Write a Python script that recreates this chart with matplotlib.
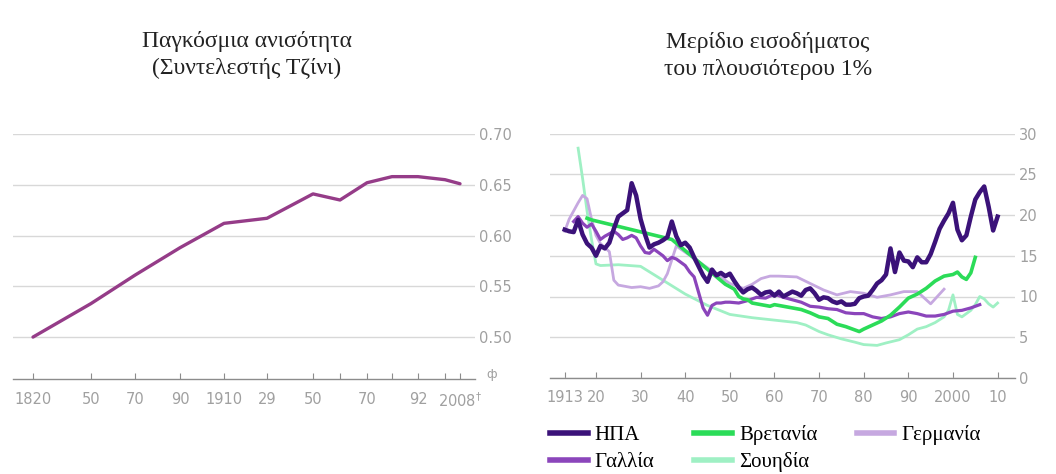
import numpy as np
import matplotlib
matplotlib.use("Agg")
import matplotlib.pyplot as plt
from matplotlib.ticker import FixedLocator

# ---- data: world inequality (Gini) ----
gini_years = [1820, 1850, 1870, 1890, 1910, 1929, 1950, 1960, 1970, 1980, 1992, 2000, 2008]
gini_values = [0.500, 0.533, 0.561, 0.588, 0.612, 0.617, 0.641, 0.635, 0.652, 0.658, 0.658, 0.655, 0.651]
gini_ticklabels = ['1820', '50', '70', '90', '1910', '29', '50', '', '70', '', '92', '', '2008$^{\\dagger}$']

# ---- data: income share of the top 1% ----
usa_years = list(range(1913, 2011))
usa_values = [18.2, 18.0, 17.9, 19.4, 17.6, 16.5, 16.0, 15.0, 16.2, 15.9,
              16.6, 18.3, 19.8, 20.2, 20.6, 23.9, 22.4, 19.5, 17.6, 16.0,
              16.4, 16.6, 16.9, 17.3, 19.2, 17.4, 16.3, 16.6, 16.0, 14.8,
              13.7, 12.6, 11.8, 13.3, 12.6, 12.9, 12.5, 12.8, 11.9, 11.1,
              10.5, 10.9, 11.1, 10.7, 10.2, 10.5, 10.6, 10.1, 10.6, 10.0,
              10.3, 10.6, 10.4, 10.1, 10.8, 11.0, 10.4, 9.6, 9.9, 9.8,
              9.4, 9.2, 9.4, 9.0, 9.0, 9.1, 9.8, 10.0, 10.1, 10.8,
              11.6, 12.0, 12.7, 15.9, 13.0, 15.4, 14.4, 14.3, 13.6, 14.8,
              14.2, 14.2, 15.2, 16.7, 18.3, 19.3, 20.2, 21.5, 18.2, 16.9,
              17.5, 19.8, 21.9, 22.8, 23.5, 21.0, 18.1, 19.8]

uk_years = [1918, 1919, 1937, 1949, 1951, 1952, 1953, 1954, 1955, 1957, 1959, 1960,
            1962, 1964, 1966, 1968, 1970, 1972, 1974, 1976, 1978, 1979, 1980, 1982,
            1984, 1986, 1988, 1990, 1992, 1994, 1996, 1998, 2000, 2001, 2002, 2003,
            2004, 2005]
uk_values = [19.6, 19.4, 17.0, 11.5, 10.9, 10.0, 9.7, 9.6, 9.2, 9.0, 8.8, 9.0,
             8.8, 8.6, 8.4, 8.0, 7.5, 7.3, 6.6, 6.3, 5.9, 5.7, 6.0, 6.5,
             7.0, 7.7, 8.7, 9.8, 10.3, 11.0, 11.9, 12.5, 12.7, 13.0, 12.4, 12.1,
             12.9, 14.8]

germany_years = [1913, 1914, 1915, 1916, 1917, 1918, 1919, 1920, 1921, 1922, 1923, 1924,
                 1925, 1926, 1928, 1930, 1932, 1934, 1935, 1936, 1937, 1938, 1950, 1953,
                 1955, 1957, 1959, 1961, 1965, 1968, 1971, 1974, 1977, 1980, 1983, 1986,
                 1989, 1992, 1995, 1998]
germany_values = [18.0, 19.5, 20.5, 21.5, 22.4, 22.0, 19.5, 17.5, 16.5, 16.0, 15.5, 12.0,
                  11.4, 11.3, 11.1, 11.2, 11.0, 11.3, 11.8, 12.8, 14.5, 16.2, 11.6, 11.0,
                  11.5, 12.2, 12.5, 12.5, 12.4, 11.6, 10.8, 10.2, 10.6, 10.4, 9.9, 10.2,
                  10.6, 10.6, 9.1, 10.9]

france_years = [1915, 1916, 1917, 1918, 1919, 1920, 1921, 1922, 1923, 1924, 1925, 1926,
                1927, 1928, 1929, 1930, 1931, 1932, 1933, 1934, 1935, 1936, 1937, 1938,
                1939, 1940, 1941, 1942, 1943, 1944, 1945, 1946, 1947, 1948, 1949, 1950,
                1952, 1954, 1956, 1958, 1960, 1962, 1964, 1966, 1968, 1970, 1972, 1974,
                1976, 1978, 1980, 1982, 1984, 1986, 1988, 1990, 1992, 1994, 1996, 1998,
                2000, 2002, 2004, 2006]
france_values = [19.2, 19.8, 19.0, 18.5, 18.9, 18.0, 17.0, 17.4, 17.7, 18.0, 17.6, 17.0,
                 17.2, 17.5, 17.2, 16.2, 15.4, 15.3, 15.8, 15.4, 15.0, 14.4, 14.8, 14.6,
                 14.2, 13.8, 13.0, 12.4, 10.5, 8.6, 7.7, 8.9, 9.2, 9.2, 9.3, 9.3,
                 9.2, 9.5, 9.9, 9.8, 10.3, 9.9, 9.6, 9.3, 8.8, 8.7, 8.5, 8.4,
                 8.0, 7.9, 7.9, 7.5, 7.3, 7.5, 7.9, 8.1, 7.9, 7.6, 7.6, 7.8,
                 8.2, 8.3, 8.6, 9.0]

sweden_years = [1916, 1917, 1918, 1919, 1920, 1921, 1925, 1930, 1935, 1940, 1945, 1950,
                1955, 1960, 1965, 1967, 1970, 1972, 1975, 1978, 1980, 1983, 1985, 1988,
                1990, 1992, 1994, 1996, 1998, 1999, 2000, 2001, 2002, 2003, 2004, 2005,
                2006, 2007, 2008, 2009, 2010]
sweden_values = [28.2, 24.5, 20.5, 17.0, 14.0, 13.8, 13.9, 13.7, 12.0, 10.3, 8.9, 7.8,
                 7.4, 7.1, 6.8, 6.5, 5.7, 5.3, 4.8, 4.4, 4.1, 4.0, 4.3, 4.7,
                 5.3, 6.0, 6.3, 6.8, 7.5, 8.3, 10.2, 7.8, 7.5, 7.9, 8.3, 9.0,
                 10.0, 9.7, 9.1, 8.7, 9.2]

top_ticks = [1913, 1920, 1930, 1940, 1950, 1960, 1970, 1980, 1990, 2000, 2010]
top_ticklabels = ['1913', '20', '30', '40', '50', '60', '70', '80', '90', '2000', '10']

# ---- styling ----
W, H = 1056, 474
grey_txt = '#a0a0a0'
grid_col = '#d8d8d8'
tick_font = ['Liberation Sans Narrow', 'DejaVu Sans']
serif = ['Liberation Serif', 'DejaVu Serif']

fig = plt.figure(figsize=(W / 100, H / 100), dpi=100)

# left panel: uneven x axis as in the original (pixel anchors for the tick years)
anchor_years = [1810] + gini_years + [2016]
anchor_px = [13, 33, 91, 135, 180, 224, 267, 313, 340, 367, 392, 418, 445, 460, 475]


def fwd(x):
    return np.interp(x, anchor_years, anchor_px)


def inv(p):
    return np.interp(p, anchor_px, anchor_years)


ax1 = fig.add_axes([13 / W, 1 - 379 / H, (475 - 13) / W, (379 - 134) / H])
ax1.set_xscale('function', functions=(fwd, inv))
ax1.plot(gini_years, gini_values, color='#953c88', lw=2.4, solid_capstyle='round', zorder=3)
ax1.set_xlim(1810, 2016)
ax1.set_ylim(0.4587, 0.70)
ax1.xaxis.set_major_locator(FixedLocator(gini_years))
ax1.set_xticklabels(gini_ticklabels)
ax1.set_yticks([0.50, 0.55, 0.60, 0.65, 0.70])
ax1.set_yticklabels(['0.50', '0.55', '0.60', '0.65', '0.70'])
ax1.text(1.025, 0.02, 'ф', transform=ax1.transAxes, color=grey_txt, fontsize=9,
         ha='left', va='center')

ax2 = fig.add_axes([550 / W, 1 - 378 / H, (1015 - 550) / W, (378 - 133.5) / H])
ax2.plot(sweden_years, sweden_values, color='#9ff0c4', lw=2.0, zorder=2, label='Σουηδία')
ax2.plot(germany_years, germany_values, color='#c6a8e0', lw=2.0, zorder=3, label='Γερμανία')
ax2.plot(france_years, france_values, color='#8b45bb', lw=2.3, zorder=4, label='Γαλλία')
ax2.plot(uk_years, uk_values, color='#2bdc58', lw=2.6, zorder=5, label='Βρετανία')
ax2.plot(usa_years, usa_values, color='#3b1279', lw=3.2, zorder=6, label='ΗΠΑ')
ax2.set_xlim(1909.7, 2013.9)
ax2.set_ylim(0, 30)
ax2.set_xticks(top_ticks)
ax2.set_xticklabels(top_ticklabels)
ax2.set_yticks(range(0, 31, 5))

for ax in (ax1, ax2):
    for s in ('top', 'left', 'right'):
        ax.spines[s].set_visible(False)
    ax.spines['bottom'].set_color('#8c8c8c')
    ax.spines['bottom'].set_linewidth(1.0)
    ax.yaxis.tick_right()
    ax.grid(axis='y', color=grid_col, lw=1.0)
    ax.set_axisbelow(True)
    ax.tick_params(axis='y', length=0, pad=3, labelcolor=grey_txt, labelsize=10.5)
    ax.tick_params(axis='x', direction='in', length=4, color='#8c8c8c', pad=9,
                   labelcolor=grey_txt, labelsize=10.5)
    for lab in ax.get_xticklabels() + ax.get_yticklabels():
        lab.set_family(tick_font)

fig.text(247 / W, 1 - 55 / H, 'Παγκόσμια ανισότητα\n(Συντελεστής Τζίνι)', ha='center',
         va='center', family=serif, fontsize=17, color='#222222', linespacing=1.4)
fig.text(768 / W, 1 - 56 / H, 'Μερίδιο εισοδήματος\nτου πλουσιότερου 1%', ha='center',
         va='center', family=serif, fontsize=17, color='#222222', linespacing=1.4)

handles, labels = ax2.get_legend_handles_labels()
order = [4, 2, 3, 0, 1]  # ΗΠΑ, Γαλλία, Βρετανία, Σουηδία, Γερμανία
leg = fig.legend([handles[i] for i in order], [labels[i] for i in order], ncol=3,
                 loc='upper left', bbox_to_anchor=(550 / W, 1 - 425 / H), frameon=False,
                 prop={'family': serif, 'size': 15}, handlelength=1.8, handletextpad=0.35,
                 columnspacing=1.9, labelspacing=0.35, borderaxespad=0, borderpad=0)
for ln in leg.get_lines():
    ln.set_linewidth(4)

fig.savefig('out.png', dpi=100, facecolor='white')
